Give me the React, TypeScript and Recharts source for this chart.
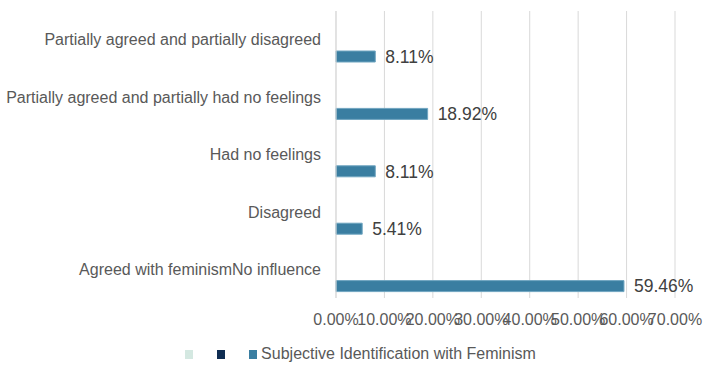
import { BarChart, Bar, XAxis, YAxis, CartesianGrid, Legend, LabelList } from "recharts";

const categories = [
  "Partially agreed and partially disagreed",
  "Partially agreed and partially had no feelings",
  "Had no feelings",
  "Disagreed",
  "Agreed with feminismNo influence",
];

// two unnamed series are empty in the source chart, only the third has values
const emptyA: (number | null)[] = [null, null, null, null, null];
const emptyB: (number | null)[] = [null, null, null, null, null];
const identification = [8.11, 18.92, 8.11, 5.41, 59.46];

const seriesNames = ["", "", "Subjective Identification with Feminism"];
const seriesColors = ["#d4e8e1", "#0f2d52", "#3a7ea1"];
const xTicks = [0, 10, 20, 30, 40, 50, 60, 70];

const data = categories.map((name, i) => ({
  name,
  a: emptyA[i],
  b: emptyB[i],
  c: identification[i],
}));

const font = "'Liberation Sans', Arial, sans-serif";
const pct = (v: number) => `${Number(v).toFixed(2)}%`;

function LegendRow() {
  return (
    <div
      style={{
        display: "flex",
        justifyContent: "center",
        alignItems: "center",
        height: 20,
        paddingLeft: 46,
        fontFamily: font,
        fontSize: 16,
        color: "#595959",
      }}
    >
      {seriesNames.map((n, i) => (
        <div
          key={i}
          style={{
            display: "flex",
            alignItems: "center",
            marginRight: i < seriesNames.length - 1 ? 24 : 0,
          }}
        >
          <span style={{ width: 8, height: 9, background: seriesColors[i], display: "inline-block" }} />
          {n && <span style={{ marginLeft: 4 }}>{n}</span>}
        </div>
      ))}
    </div>
  );
}

export default function App() {
  return (
    <div style={{ position: "absolute", left: 0, top: 0, background: "#fff" }}>
      <BarChart
        width={716}
        height={374}
        data={data}
        layout="vertical"
        margin={{ top: 11, right: 41, bottom: 10, left: 0 }}
        barSize={11}
        barGap={6}
      >
        <CartesianGrid horizontal={false} stroke="#d9d9d9" />
        <XAxis
          type="number"
          domain={[0, 70]}
          ticks={xTicks}
          tickFormatter={pct}
          axisLine={false}
          tickLine={false}
          tickMargin={10}
          height={46}
          interval={0}
          tick={{ fill: "#595959", fontSize: 16, fontFamily: font }}
        />
        <YAxis
          type="category"
          dataKey="name"
          width={336}
          axisLine={{ stroke: "#d9d9d9" }}
          tickLine={false}
          tickMargin={9}
          interval={0}
          tick={{ fill: "#595959", fontSize: 16, fontFamily: font }}
        />
        <Legend verticalAlign="bottom" content={() => <LegendRow />} />
        <Bar dataKey="a" name={seriesNames[0]} fill={seriesColors[0]} isAnimationActive={false} />
        <Bar dataKey="b" name={seriesNames[1]} fill={seriesColors[1]} isAnimationActive={false} />
        <Bar
          dataKey="c"
          name={seriesNames[2]}
          fill={seriesColors[2]}
          stroke="#6fa5c0"
          strokeWidth={1}
          isAnimationActive={false}
        >
          <LabelList
            dataKey="c"
            position="right"
            offset={10}
            formatter={(v: any) => pct(v)}
            style={{ fill: "#404040", fontSize: 17.5, fontFamily: font }}
          />
        </Bar>
      </BarChart>
    </div>
  );
}
